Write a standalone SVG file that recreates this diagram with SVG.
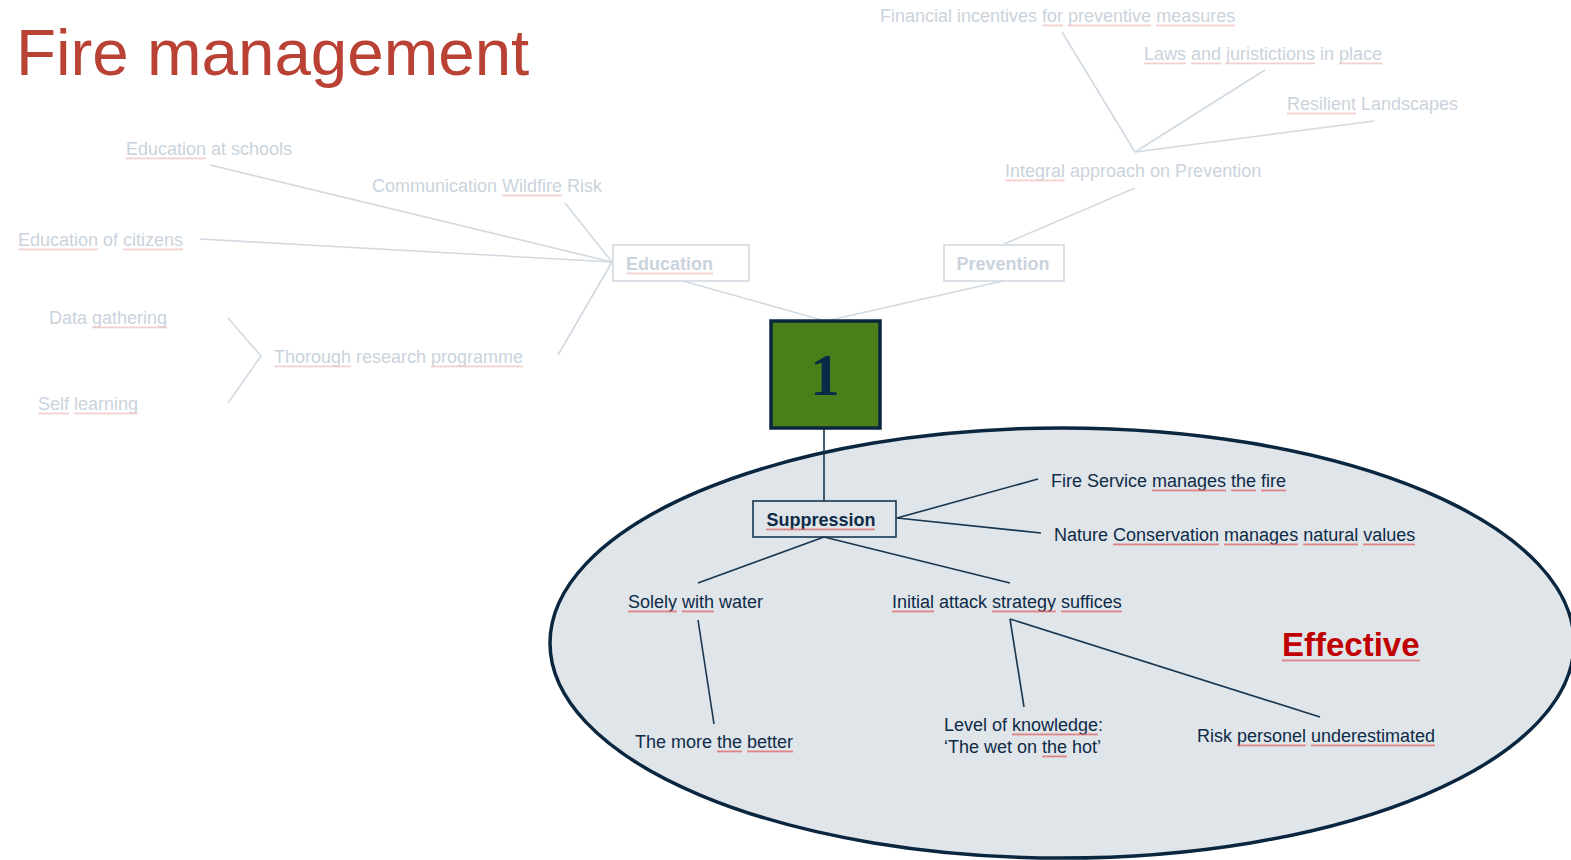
<svg xmlns="http://www.w3.org/2000/svg" width="1571" height="860" viewBox="0 0 1571 860">
<defs>
  <pattern id="wd" width="4" height="3" patternUnits="userSpaceOnUse">
    <path d="M0 2.5 L1 0.5 L2 2.5 L3 0.5 L4 2.5" fill="none" stroke="#e06a6a" stroke-width="0.8"/>
  </pattern>
  <pattern id="wf" width="4" height="3" patternUnits="userSpaceOnUse">
    <path d="M0 2.5 L1 0.5 L2 2.5 L3 0.5 L4 2.5" fill="none" stroke="#f1c3c3" stroke-width="0.8"/>
  </pattern>
</defs>
<style>
  text { font-family: "Liberation Sans", Arial, sans-serif; }
  .faded { fill: #cad3dc; font-size: 18px; }
  .dark { fill: #0e2b47; font-size: 18px; }
  .fl { stroke: #d2dae1; stroke-width: 1.6; fill: none; }
  .dl { stroke: #17364f; stroke-width: 1.6; fill: none; }
  .sd { fill: url(#wd); }
  .sf { fill: url(#wf); }
</style>
<rect width="1571" height="860" fill="#ffffff"/>

<g id="effective-area">
  <ellipse cx="1062" cy="643" rx="512" ry="215" fill="#e0e5ea" stroke="#0b2740" stroke-width="3.5"/>
</g>

<text id="title" x="16" y="75" font-size="65.5" fill="#b94234">Fire management</text>

<g id="connectors">
  <line class="fl" x1="683" y1="281" x2="822" y2="320"/>
  <line class="fl" x1="1003" y1="281" x2="830" y2="320"/>
  <line class="fl" x1="210" y1="165" x2="612" y2="262"/>
  <line class="fl" x1="200" y1="239" x2="612" y2="262"/>
  <line class="fl" x1="565" y1="203" x2="612" y2="262"/>
  <line class="fl" x1="558" y1="355" x2="612" y2="262"/>
  <polyline class="fl" points="228,318 261,356 228,403"/>
  <line class="fl" x1="1135" y1="188" x2="1004" y2="244"/>
  <line class="fl" x1="1062" y1="32" x2="1135" y2="152"/>
  <line class="fl" x1="1265" y1="70" x2="1135" y2="152"/>
  <line class="fl" x1="1374" y1="121" x2="1135" y2="152"/>
  <line class="dl" x1="824" y1="428" x2="824" y2="501"/>
  <line class="dl" x1="897" y1="518" x2="1038" y2="479"/>
  <line class="dl" x1="897" y1="518" x2="1041" y2="533"/>
  <line class="dl" x1="824" y1="537" x2="698" y2="583"/>
  <line class="dl" x1="824" y1="537" x2="1010" y2="583"/>
  <line class="dl" x1="698" y1="620" x2="714" y2="724"/>
  <line class="dl" x1="1010" y1="619" x2="1024" y2="707"/>
  <line class="dl" x1="1010" y1="619" x2="1320" y2="717"/>
</g>

<g id="node-1">
  <rect x="771" y="321" width="109" height="107" fill="#4a7f1a" stroke="#0b2740" stroke-width="3.5"/>
  <text x="825" y="395" font-weight="bold" font-size="59" fill="#0b2a48" text-anchor="middle" style="font-family:'Liberation Serif','Times New Roman',serif">1</text>
</g>

<g id="node-education">
  <rect x="613" y="245" width="136" height="36" fill="none" stroke="#d2dae1" stroke-width="1.6"/>
  <text x="626" y="270" font-size="18" font-weight="bold" fill="#cad3dc">Education</text>
</g>
<g id="node-prevention">
  <rect x="944" y="245" width="120" height="36" fill="none" stroke="#d2dae1" stroke-width="1.6"/>
  <text x="1003" y="270" font-size="18" font-weight="bold" fill="#cad3dc" text-anchor="middle">Prevention</text>
</g>

<g id="node-edu-schools"><text class="faded" x="126" y="155">Education at schools</text></g>
<g id="node-communication"><text class="faded" x="372" y="192">Communication Wildfire Risk</text></g>
<g id="node-edu-citizens"><text class="faded" x="18" y="246">Education of citizens</text></g>
<g id="node-data"><text class="faded" x="49" y="324">Data gathering</text></g>
<g id="node-research"><text class="faded" x="274" y="363">Thorough research programme</text></g>
<g id="node-self"><text class="faded" x="38" y="410">Self learning</text></g>

<g id="node-financial"><text class="faded" x="880" y="22">Financial incentives for preventive measures</text></g>
<g id="node-laws"><text class="faded" x="1144" y="60">Laws and juristictions in place</text></g>
<g id="node-resilient"><text class="faded" x="1287" y="110">Resilient Landscapes</text></g>
<g id="node-integral"><text class="faded" x="1005" y="177">Integral approach on Prevention</text></g>

<g id="node-suppression">
  <rect x="753" y="501" width="143" height="36" fill="none" stroke="#17364f" stroke-width="1.6"/>
  <text x="821" y="526" font-size="18" font-weight="bold" fill="#0e2b47" text-anchor="middle">Suppression</text>
</g>

<g id="node-fire-service"><text class="dark" x="1051" y="487">Fire Service manages the fire</text></g>
<g id="node-nature"><text class="dark" x="1054" y="541">Nature Conservation manages natural values</text></g>
<g id="node-solely"><text class="dark" x="628" y="608">Solely with water</text></g>
<g id="node-initial"><text class="dark" x="892" y="608">Initial attack strategy suffices</text></g>
<g id="node-more"><text class="dark" x="635" y="748">The more the better</text></g>
<g id="node-level">
  <text class="dark" x="944" y="731">Level of knowledge:</text>
  <text class="dark" x="944" y="753">‘The wet on the hot’</text>
</g>
<g id="node-risk"><text class="dark" x="1197" y="742">Risk personel underestimated</text></g>

<g id="label-effective"><text x="1282" y="656" font-size="33" font-weight="bold" fill="#c00000">Effective</text></g>

<g id="spellcheck">
  <rect class="sf" transform="translate(626,272)" width="87" height="3"/>
  <rect class="sf" transform="translate(126,157)" width="80" height="3"/>
  <rect class="sf" transform="translate(502,194)" width="60" height="3"/>
  <rect class="sf" transform="translate(18,248)" width="80" height="3"/>
  <rect class="sf" transform="translate(123,248)" width="60" height="3"/>
  <rect class="sf" transform="translate(92,326)" width="75" height="3"/>
  <rect class="sf" transform="translate(274,365)" width="77" height="3"/>
  <rect class="sf" transform="translate(431,365)" width="92" height="3"/>
  <rect class="sf" transform="translate(38,412)" width="31" height="3"/>
  <rect class="sf" transform="translate(74,412)" width="64" height="3"/>
  <rect class="sf" transform="translate(1042,24)" width="21" height="3"/>
  <rect class="sf" transform="translate(1068,24)" width="83" height="3"/>
  <rect class="sf" transform="translate(1156,24)" width="79" height="3"/>
  <rect class="sf" transform="translate(1144,62)" width="42" height="3"/>
  <rect class="sf" transform="translate(1191,62)" width="30" height="3"/>
  <rect class="sf" transform="translate(1226,62)" width="89" height="3"/>
  <rect class="sf" transform="translate(1339,62)" width="43" height="3"/>
  <rect class="sf" transform="translate(1287,112)" width="69" height="3"/>
  <rect class="sf" transform="translate(1005,179)" width="60" height="3"/>
  <rect class="sd" transform="translate(766,528)" width="109" height="3"/>
  <rect class="sd" transform="translate(1152,489)" width="74" height="3"/>
  <rect class="sd" transform="translate(1231,489)" width="25" height="3"/>
  <rect class="sd" transform="translate(1261,489)" width="25" height="3"/>
  <rect class="sd" transform="translate(1113,543)" width="106" height="3"/>
  <rect class="sd" transform="translate(1224,543)" width="74" height="3"/>
  <rect class="sd" transform="translate(1303,543)" width="55" height="3"/>
  <rect class="sd" transform="translate(1363,543)" width="52" height="3"/>
  <rect class="sd" transform="translate(628,610)" width="49" height="3"/>
  <rect class="sd" transform="translate(682,610)" width="32" height="3"/>
  <rect class="sd" transform="translate(892,610)" width="42" height="3"/>
  <rect class="sd" transform="translate(992,610)" width="64" height="3"/>
  <rect class="sd" transform="translate(1061,610)" width="61" height="3"/>
  <rect class="sd" transform="translate(717,750)" width="25" height="3"/>
  <rect class="sd" transform="translate(747,750)" width="46" height="3"/>
  <rect class="sd" transform="translate(1012,733)" width="86" height="3"/>
  <rect class="sd" transform="translate(1042,755)" width="25" height="3"/>
  <rect class="sd" transform="translate(1237,744)" width="69" height="3"/>
  <rect class="sd" transform="translate(1311,744)" width="124" height="3"/>
  <rect class="sd" transform="translate(1282,659)" width="138" height="3"/>
</g>
</svg>
